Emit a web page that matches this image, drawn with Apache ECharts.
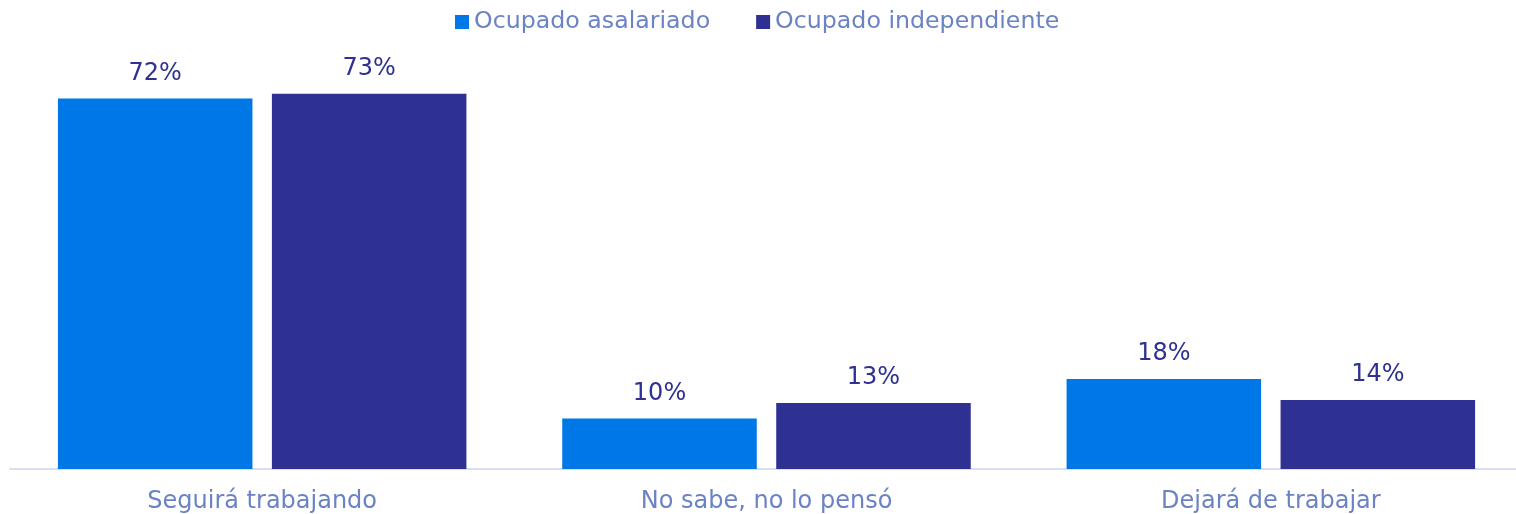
<!DOCTYPE html>
<html>
  <head>
    <meta charset="utf-8" />
    <title>ECharts</title>
    <style type="text/css">
      html,
      body {
        margin: 0;
        width: 100%;
        overflow: hidden;
        background: #ffffff;
      }
    </style>
    <script src="https://cdn.jsdelivr.net/npm/echarts@6/dist/echarts.min.js"></script>
  </head>
  <body>
    <div id="chart" style="width: 1524px; height: 514px"></div>
    <script type="text/javascript">
      var categories = ["Seguirá trabajando", "No sabe, no lo pensó", "Dejará de trabajar"];
      var seriesNames = ["Ocupado asalariado", "Ocupado independiente"];
      var asalariado = [72.49, 9.9, 17.6];
      var independiente = [73.4, 12.9, 13.5];

      var chart = echarts.init(document.getElementById("chart"));
      var font = "DejaVu Sans, Verdana, sans-serif";

      function barSeries(name, data, color) {
        return {
          name: name,
          type: "bar",
          data: data,
          barGap: "10%",
          barCategoryGap: "19%",
          itemStyle: { color: color },
          label: {
            show: true,
            position: "top",
            distance: 13,
            color: "#2e3192",
            fontFamily: font,
            fontSize: 24,
            formatter: function (p) {
              return Math.round(p.value) + "%";
            },
          },
        };
      }

      chart.setOption({
        animation: false,
        legend: {
          top: 5,
          left: 450,
          itemWidth: 14,
          itemHeight: 14,
          itemGap: 46,
          icon: "rect",
          textStyle: { color: "#6b83c4", fontFamily: font, fontSize: 23.7 },
          data: seriesNames,
        },
        grid: { left: 10, right: 1, top: 60, bottom: 45 },
        xAxis: {
          type: "category",
          data: categories,
          axisTick: { show: false },
          axisLine: { lineStyle: { color: "#d9dff0", width: 2 } },
          axisLabel: { color: "#6b83c4", fontFamily: font, fontSize: 24, margin: 21 },
        },
        yAxis: {
          type: "value",
          min: 0,
          max: 80,
          show: false,
          splitLine: { show: false },
        },
        series: [
          barSeries(seriesNames[0], asalariado, "#0077e6"),
          barSeries(seriesNames[1], independiente, "#2e3192"),
        ],
      });
    </script>
  </body>
</html>
